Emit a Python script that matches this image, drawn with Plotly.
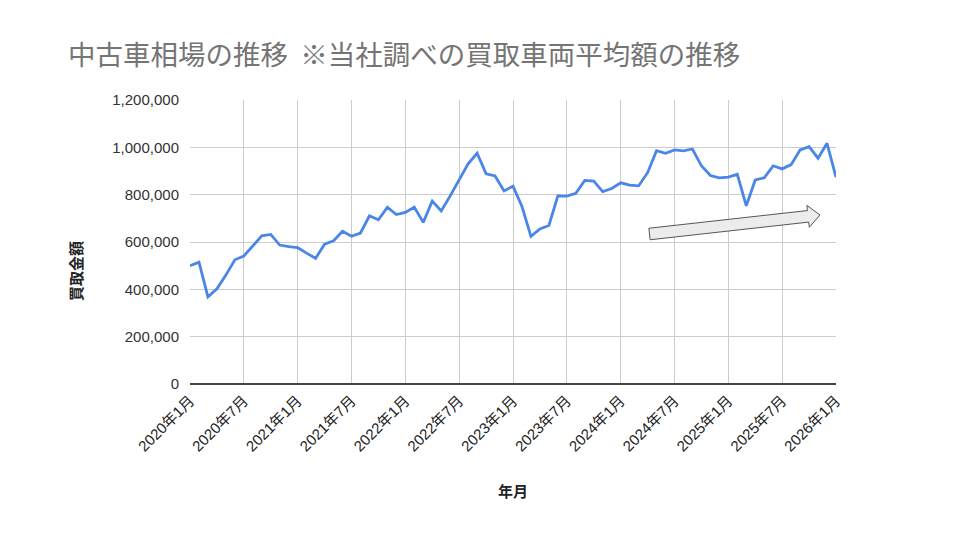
import numpy as np
import plotly.graph_objects as go

months = [f"{y}年{m}月" for y in range(2020, 2027) for m in range(1, 13)][:73]

values = [
    500000, 515000, 368000, 402000, 460000, 525000, 541000, 584000, 626000, 632000,
    587000, 580000, 576000, 553000, 531000, 591000, 605000, 645000, 624000, 638000,
    711000, 694000, 747000, 716000, 725000, 747000, 683000, 773000, 731000, 795000,
    860000, 930000, 975000, 888000, 879000, 816000, 836000, 750000, 624000, 655000,
    670000, 795000, 794000, 806000, 860000, 857000, 813000, 826000, 850000, 840000,
    837000, 893000, 986000, 975000, 989000, 985000, 993000, 922000, 881000, 871000,
    874000, 886000, 753000, 862000, 871000, 922000, 909000, 927000, 989000, 1003000,
    954000, 1017000, 874000,
]

tick_labels = [months[i] for i in range(0, 73, 6)]
y_ticks = [0, 200000, 400000, 600000, 800000, 1000000, 1200000]

title_text = "中古車相場の推移\u00a0\u00a0※当社調べの買取車両平均額の推移"
y_title = "買取金額"
x_title = "年月"

CJK = "Noto Sans CJK JP"
MIX = "Liberation Sans, Noto Sans CJK JP"

# page body has an 8px margin; geometry below is in screenshot pixels
OFF = 8
L, R, T, B = 190, 836, 100, 384
W, H = 960, 540

def to_paper(px, py):
    return (px - L) / (R - L), (B - py) / (B - T)

fig = go.Figure()
fig.add_trace(go.Scatter(
    x=months, y=values, mode="lines",
    line=dict(color="#4a86e8", width=2.8),
    hoverinfo="skip", showlegend=False,
))

# arrow shape
tail = np.array([649.5, 234.0])
tip = np.array([820.0, 215.0])
u = (tip - tail) / np.linalg.norm(tip - tail)
n = np.array([-u[1], u[0]])
w, hw, hl = 5.8, 11.0, 12.0
base = tip - hl * u
pts = [tail + w * n, base + w * n, base + hw * n, tip, base - hw * n, base - w * n, tail - w * n]
path = "M " + " L ".join(f"{to_paper(*p)[0]:.5f},{to_paper(*p)[1]:.5f}" for p in pts) + " Z"
fig.add_shape(type="path", path=path, xref="paper", yref="paper",
              fillcolor="#ececec", line=dict(color="#555555", width=1))

yx, yy = to_paper(75, 271)
xx, xy = to_paper(513, 490)
fig.add_annotation(text=f"<b>{y_title}</b>", xref="paper", yref="paper", x=yx, y=yy,
                   textangle=-90, showarrow=False, xanchor="center", yanchor="middle",
                   font=dict(family=CJK, size=15, color="#222222"))
fig.add_annotation(text=f"<b>{x_title}</b>", xref="paper", yref="paper", x=xx, y=xy,
                   showarrow=False, xanchor="center", yanchor="middle",
                   font=dict(family=CJK, size=15, color="#222222"))

fig.update_layout(
    width=W, height=H,
    paper_bgcolor="white", plot_bgcolor="white",
    margin=dict(l=L - OFF, r=W - (R - OFF), t=T - OFF, b=H - (B - OFF), pad=0),
    font=dict(family=MIX, color="#222222", size=15),
    title=dict(text=title_text, x=(68 - OFF) / W, xanchor="left",
               y=1 - (55 - OFF) / H, yanchor="middle",
               font=dict(family=CJK, size=27.5, color="#757575")),
)
fig.update_xaxes(
    type="category", range=[0, 72],
    tickmode="array", tickvals=tick_labels, ticktext=tick_labels,
    tickangle=-45, showgrid=True, gridcolor="#cccccc", gridwidth=1,
    showline=False, ticks="", ticklabelstandoff=4,
    tickfont=dict(family=MIX, size=15, color="#222222"),
    automargin=False,
)
fig.update_yaxes(
    range=[0, 1200000], tickmode="array", tickvals=y_ticks, tickformat=",",
    showgrid=True, gridcolor="#cccccc", gridwidth=1,
    zeroline=True, zerolinecolor="#444444", zerolinewidth=1.6,
    showline=False, ticks="", ticklabelstandoff=10,
    tickfont=dict(family="Liberation Sans", size=15, color="#333333"),
    automargin=False,
)

fig.write_html("out.html")
